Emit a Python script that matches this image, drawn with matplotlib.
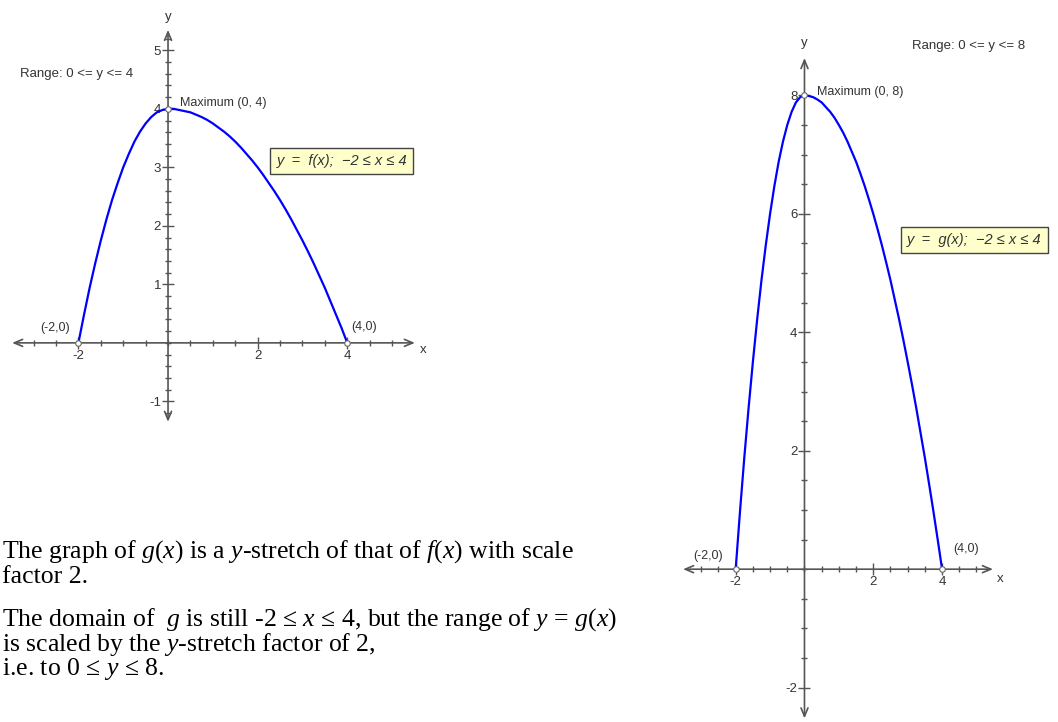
import matplotlib.pyplot as plt
import numpy as np
from matplotlib.ticker import FixedLocator, FixedFormatter

plt.rcParams['font.family'] = ['Liberation Sans', 'DejaVu Sans']
plt.rcParams['mathtext.fontset'] = 'custom'
plt.rcParams['mathtext.rm'] = 'Liberation Serif'
plt.rcParams['mathtext.it'] = 'Liberation Serif:italic'

# values
x_pts = [-2, -1.875, -1.75, -1.625, -1.5, -1.375, -1.25, -1.125, -1,
         -0.875, -0.75, -0.625, -0.5, -0.375, -0.25, -0.125, 0,
         0.125, 0.25, 0.375, 0.5, 0.625, 0.75, 0.875, 1,
         1.125, 1.25, 1.375, 1.5, 1.625, 1.75, 1.875, 2,
         2.125, 2.25, 2.375, 2.5, 2.625, 2.75, 2.875, 3,
         3.125, 3.25, 3.375, 3.5, 3.625, 3.75, 3.875, 4]
f_vals = [0, 0.48, 0.94, 1.36, 1.75, 2.11, 2.44, 2.73, 3.0,
          3.23, 3.44, 3.61, 3.75, 3.86, 3.94, 3.98, 4.0,
          4.0, 3.98, 3.96, 3.94, 3.90, 3.86, 3.81, 3.75,
          3.68, 3.61, 3.53, 3.44, 3.34, 3.23, 3.12, 3.0,
          2.87, 2.73, 2.59, 2.44, 2.28, 2.11, 1.93, 1.75,
          1.56, 1.36, 1.15, 0.94, 0.71, 0.48, 0.25, 0]
g_vals = [0, 0.97, 1.88, 2.72, 3.5, 4.22, 4.88, 5.47, 6.0,
          6.47, 6.88, 7.22, 7.5, 7.72, 7.88, 7.97, 8.0,
          7.99, 7.97, 7.93, 7.88, 7.80, 7.72, 7.62, 7.5,
          7.37, 7.22, 7.05, 6.88, 6.68, 6.47, 6.24, 6.0,
          5.74, 5.47, 5.18, 4.88, 4.55, 4.22, 3.87, 3.5,
          3.12, 2.72, 2.30, 1.88, 1.43, 0.97, 0.49, 0]

f_xticks = [-2, 2, 4]
f_yticks = [-1, 1, 2, 3, 4, 5]
g_xticks = [-2, 2, 4]
g_yticks = [-2, 2, 4, 6, 8]

W, H = 1058, 722
AX = '#555555'
TXT = '#333333'
BLUE = '#0000ff'

fig = plt.figure(figsize=(W / 100, H / 100), dpi=100)


def px_axes(x0, y0, x1, y1):
    ax = fig.add_axes([x0 / W, 1 - y1 / H, (x1 - x0) / W, (y1 - y0) / H])
    ax.patch.set_alpha(0)
    return ax


def draw_panel(ax, xs, ys, xlim, ylim, xticks, yticks, xminor, yminor,
               xarrow, yarrow, name, box_xy, max_xy, left_xy, right_xy,
               range_xy, ylab_y, xlab_xy):
    ax.set_xlim(*xlim)
    ax.set_ylim(*ylim)
    for s in ['top', 'right']:
        ax.spines[s].set_visible(False)
    ax.spines['left'].set_position(('data', 0))
    ax.spines['bottom'].set_position(('data', 0))
    ax.spines['left'].set_color('none')
    ax.spines['bottom'].set_color('none')

    ax.xaxis.set_major_locator(FixedLocator(xticks))
    ax.xaxis.set_major_formatter(FixedFormatter([str(t) for t in xticks]))
    ax.xaxis.set_minor_locator(FixedLocator(xminor))
    ax.yaxis.set_major_locator(FixedLocator(yticks))
    ax.yaxis.set_major_formatter(FixedFormatter([str(t) for t in yticks]))
    ax.yaxis.set_minor_locator(FixedLocator(yminor))
    ax.tick_params(which='both', direction='inout', color=AX, width=1,
                   labelsize=9.5, labelcolor=TXT, pad=0.5)
    ax.tick_params(which='major', length=9)
    ax.tick_params(which='minor', length=5)

    arrow = dict(arrowstyle='<->,head_length=0.6,head_width=0.25', color=AX, lw=1.2,
                 shrinkA=0, shrinkB=0)
    ax.annotate('', xy=(xarrow[1], 0), xytext=(xarrow[0], 0), arrowprops=arrow)
    ax.annotate('', xy=(0, yarrow[1]), xytext=(0, yarrow[0]), arrowprops=arrow)
    ax.text(0, ylab_y, 'y', ha='center', va='center', fontsize=9.5, color=TXT)
    ax.text(*xlab_xy, 'x', ha='left', va='center', fontsize=9.5, color=TXT)

    ax.plot(xs, ys, color=BLUE, lw=1.6, zorder=4, solid_joinstyle='round')
    imax = int(np.argmax(ys))
    ax.plot([xs[0], xs[-1], xs[imax]], [ys[0], ys[-1], ys[imax]], 'o', ms=4,
            mfc='white', mec='#666666', mew=0.8, zorder=5)

    top = ys[imax]
    ax.text(max_xy[0], max_xy[1], 'Maximum (%g, %g)' % (xs[imax], top),
            fontsize=9, color=TXT, va='center', ha='left')
    ax.text(*left_xy, '(%g,%g)' % (xs[0], ys[0]), fontsize=9, color=TXT,
            ha='center', va='center')
    ax.text(*right_xy, '(%g,%g)' % (xs[-1], ys[-1]), fontsize=9, color=TXT,
            ha='center', va='center')
    ax.text(*range_xy, 'Range: 0 <= y <= %g' % top, fontsize=9.5, color=TXT,
            ha='left', va='center')
    ax.text(*box_xy, 'y  =  %s(x);  \u22122 \u2264 x \u2264 4' % name, fontsize=10.5,
            style='italic', color=TXT, ha='left', va='center', clip_on=False,
            bbox=dict(boxstyle='square,pad=0.42', fc='#ffffcc', ec='#444444', lw=1))


ax1 = px_axes(0, 0, 440, 440)
draw_panel(ax1, x_pts, f_vals, (-3.75, 6.07), (-1.66, 5.86), f_xticks, f_yticks,
           np.arange(-3, 5.01, 0.5), np.arange(-1.2, 5.21, 0.2),
           (-3.48, 5.51), (-1.35, 5.35), 'f',
           box_xy=(2.42, 3.11), max_xy=(0.27, 4.1), left_xy=(-2.52, 0.26),
           right_xy=(4.37, 0.27), range_xy=(-3.3, 4.6), ylab_y=5.57,
           xlab_xy=(5.62, -0.12))

ax2 = px_axes(660, 0, 1058, 722)
draw_panel(ax2, x_pts, g_vals, (-4.2, 7.37), (-2.58, 9.61), g_xticks, g_yticks,
           np.arange(-3, 5.01, 0.5), np.arange(-2, 8.01, 0.5),
           (-3.53, 5.48), (-2.52, 8.63), 'g',
           box_xy=(2.98, 5.56), max_xy=(0.36, 8.06), left_xy=(-2.81, 0.22),
           right_xy=(4.69, 0.34), range_xy=(3.12, 8.83), ylab_y=8.89,
           xlab_xy=(5.6, -0.16))

lines = [
    (552, r'The graph of $g(x)$ is a $y$-stretch of that of $f(x)$ with scale'),
    (577, 'factor 2.'),
    (620, r'The domain of  $g$ is still -2 ≤ $x$ ≤ 4, but the range of $y$ = $g(x)$'),
    (645, r'is scaled by the $y$-stretch factor of 2,'),
    (669, r'i.e. to 0 ≤ $y$ ≤ 8.'),
]
for y, s in lines:
    fig.text(2 / W, 1 - y / H, s, fontsize=18.5, family='Liberation Serif',
             color='black', ha='left', va='center')

fig.savefig('out.png', dpi=100)
